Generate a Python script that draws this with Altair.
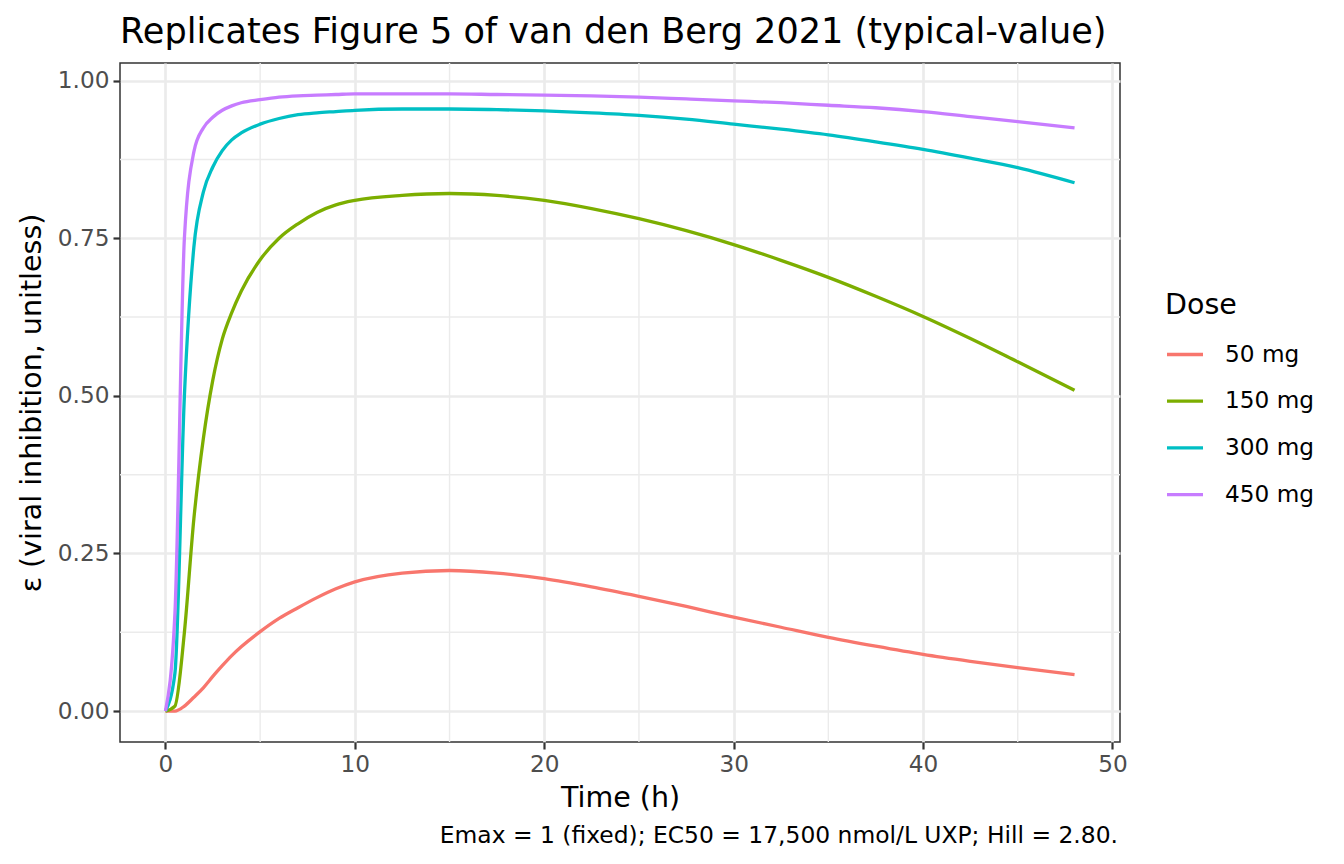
import altair as alt
import pandas as pd

# time grid (h) and the typical-value inhibition curves
TIME_H = [0, 0.5, 1, 1.5, 2, 2.5, 3, 3.5, 4, 5, 6, 7, 8, 9, 10,
          12.5, 15, 17.5, 20, 22.5, 25, 27.5, 30, 32.5, 35, 37.5, 40, 42.5, 45, 48]

EPS_50 = [0.0, 0.0, 0.008, 0.022, 0.037, 0.055, 0.072, 0.088, 0.102, 0.126, 0.147, 0.164, 0.180, 0.194, 0.205,
          0.219, 0.223, 0.219, 0.210, 0.197, 0.182, 0.166, 0.149, 0.133, 0.117, 0.103, 0.090, 0.079, 0.069, 0.058]
EPS_150 = [0.0, 0.008, 0.125, 0.305, 0.432, 0.525, 0.590, 0.632, 0.666, 0.716, 0.750, 0.773, 0.791, 0.803, 0.810,
           0.818, 0.821, 0.818, 0.810, 0.797, 0.781, 0.762, 0.740, 0.715, 0.688, 0.658, 0.626, 0.591, 0.554, 0.509]
EPS_300 = [0.0, 0.060, 0.500, 0.736, 0.823, 0.863, 0.889, 0.906, 0.917, 0.931, 0.940, 0.946, 0.949, 0.951, 0.953,
           0.955, 0.955, 0.954, 0.952, 0.949, 0.945, 0.939, 0.931, 0.923, 0.914, 0.903, 0.891, 0.877, 0.862, 0.838]
EPS_450 = [0.0, 0.155, 0.750, 0.887, 0.925, 0.942, 0.953, 0.960, 0.965, 0.970, 0.974, 0.976, 0.977, 0.978, 0.979,
           0.979, 0.979, 0.978, 0.977, 0.976, 0.974, 0.971, 0.968, 0.965, 0.961, 0.957, 0.951, 0.943, 0.935, 0.925]

DOSE_LABELS = ["50 mg", "150 mg", "300 mg", "450 mg"]
DOSE_COLORS = ["#F8766D", "#7CAE00", "#00BFC4", "#C77CFF"]

X_TICKS = [0, 10, 20, 30, 40, 50]
X_MINOR = [5, 15, 25, 35, 45]
Y_TICKS = [0, 0.25, 0.5, 0.75, 1.0]
Y_MINOR = [0.125, 0.375, 0.625, 0.875]

TITLE = "Replicates Figure 5 of van den Berg 2021 (typical-value)"
CAPTION = "Emax = 1 (fixed); EC50 = 17,500 nmol/L UXP; Hill = 2.80."
X_TITLE = "Time (h)"
Y_TITLE = "ε (viral inhibition, unitless)"

FONT = "DejaVu Sans"
SMALL = 23.2

rows = []
for label, series in zip(DOSE_LABELS, [EPS_50, EPS_150, EPS_300, EPS_450]):
    for t, e in zip(TIME_H, series):
        rows.append({"time": t, "eps": e, "dose": label})
df = pd.DataFrame(rows)

x_scale = alt.Scale(domain=[-2.4, 50.4], nice=False, zero=False)
y_scale = alt.Scale(domain=[-0.049, 1.028], nice=False, zero=False)
x_axis = alt.Axis(values=X_TICKS, format="d")
y_axis = alt.Axis(values=Y_TICKS, format=".2f")

# thin minor grid lines (ggplot style)
minor_x = alt.Chart(pd.DataFrame({"t": X_MINOR})).mark_rule(
    color="#EBEBEB", strokeWidth=1.4
).encode(x=alt.X("t:Q", scale=x_scale, axis=x_axis, title=X_TITLE))

minor_y = alt.Chart(pd.DataFrame({"v": Y_MINOR})).mark_rule(
    color="#EBEBEB", strokeWidth=1.4
).encode(y=alt.Y("v:Q", scale=y_scale, axis=y_axis, title=Y_TITLE))

lines = alt.Chart(df).mark_line(strokeWidth=3.3, interpolate="monotone").encode(
    x=alt.X("time:Q", scale=x_scale, axis=x_axis, title=X_TITLE),
    y=alt.Y("eps:Q", scale=y_scale, axis=y_axis, title=Y_TITLE),
    color=alt.Color(
        "dose:N",
        scale=alt.Scale(domain=DOSE_LABELS, range=DOSE_COLORS),
        legend=alt.Legend(
            title="Dose", orient="none", legendX=1045, legendY=228,
            symbolType="stroke", symbolSize=1296, symbolStrokeWidth=3.3,
            labelFontSize=SMALL, labelFont=FONT, labelColor="black",
            titleFontSize=28.5, titleFont=FONT, titleFontWeight="normal",
            titleColor="black", titlePadding=15, rowPadding=14.7, labelOffset=20,
        ),
    ),
)

caption = alt.Chart(pd.DataFrame({"c": [CAPTION]})).mark_text(
    align="right", baseline="alphabetic", fontSize=23.4, font=FONT, color="black"
).encode(text="c:N", x=alt.value(998), y=alt.value(780))

chart = alt.layer(minor_x, minor_y, lines, caption).properties(
    width=1000,
    height=679,
    padding={"left": 112, "top": 55, "right": 210, "bottom": 110},
    autosize=alt.AutoSizeParams(type="none"),
    title=alt.TitleParams(
        TITLE, anchor="start", frame="group", fontSize=35.1, font=FONT,
        fontWeight="normal", color="black", offset=12,
    ),
).configure_view(
    stroke="#333333", strokeWidth=1.5
).configure_axis(
    labelFont=FONT, labelFontSize=SMALL, labelColor="#4D4D4D",
    titleFont=FONT, titleFontSize=28.5, titleFontWeight="normal", titleColor="black",
    tickColor="#333333", tickSize=7, tickWidth=2.2,
    gridColor="#EBEBEB", gridWidth=2.7, domain=False, labelPadding=4,
).configure_axisX(
    titlePadding=8
).configure_axisY(
    titlePadding=11
)

chart.save("out.html", embed_options={"renderer": "svg", "actions": False})
